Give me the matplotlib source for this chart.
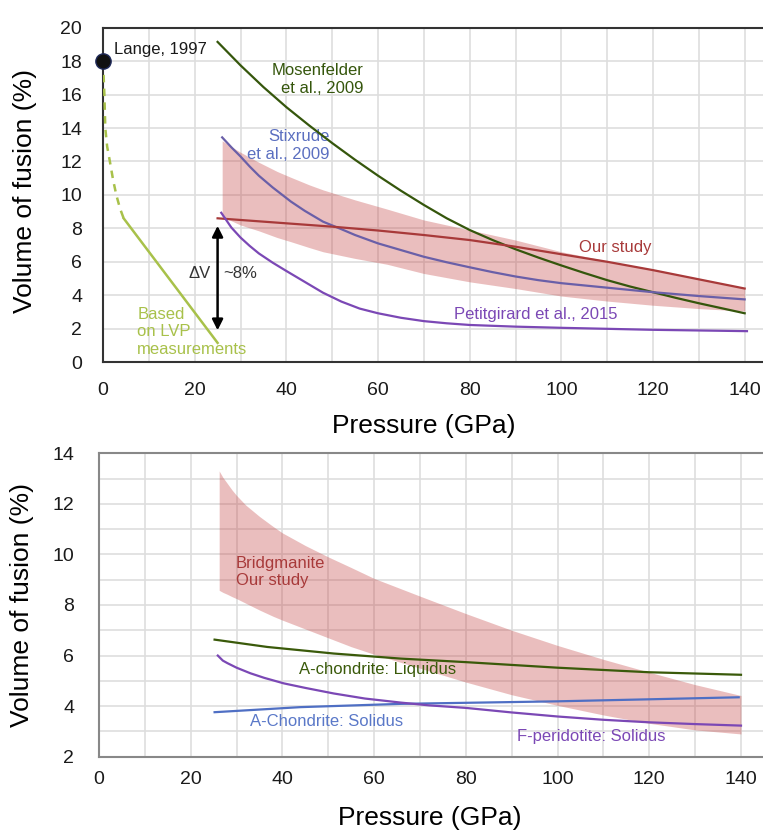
import matplotlib
matplotlib.use("Agg")
import matplotlib.pyplot as plt
from matplotlib.ticker import MultipleLocator

plt.rcParams['font.family'] = ['Liberation Sans', 'DejaVu Sans']

# ---- top panel data (pressure GPa, volume of fusion %) ----
lange_p = [0]
lange_v = [18]

lvp_dash_p = [0, 0.15, 0.3, 0.5, 0.9, 1.5, 2.2, 2.9, 3.7, 4.5]
lvp_dash_v = [18, 17.0, 16.0, 14.0, 12.9, 12.0, 10.9, 10.0, 9.2, 8.6]
lvp_p = [4.5, 25]
lvp_v = [8.6, 1.15]

mosen_p = [25, 30, 35, 40, 45, 50, 55, 60, 65, 70, 75, 80, 85, 90, 95, 100,
           105, 110, 115, 120, 125, 130, 135, 140]
mosen_v = [19.15, 17.75, 16.45, 15.25, 14.15, 13.1, 12.1, 11.15, 10.25, 9.4, 8.6, 7.9,
           7.3, 6.75, 6.25, 5.78, 5.33, 4.9, 4.52, 4.18, 3.84, 3.52, 3.22, 2.92]

stix_p = [26, 28, 30, 32, 34, 37, 41, 44, 48, 52, 55, 60, 65, 70, 75, 80, 85, 90,
          95, 100, 110, 120, 130, 140]
stix_v = [13.44, 12.85, 12.3, 11.7, 11.15, 10.45, 9.6, 9.05, 8.4, 7.95, 7.6, 7.1, 6.7,
          6.3, 5.97, 5.67, 5.38, 5.12, 4.9, 4.72, 4.45, 4.18, 3.95, 3.75]

ours_p = [25, 40, 50, 60, 70, 80, 90, 100, 110, 120, 130, 140]
ours_v = [8.6, 8.3, 8.1, 7.87, 7.6, 7.3, 6.9, 6.45, 6.0, 5.5, 4.95, 4.4]

band_p = [26, 28, 30, 34, 38, 41, 45, 48, 55, 62, 70, 80, 90, 100, 110, 120, 130, 140]
band_hi = [13.24, 12.88, 12.55, 11.95, 11.4, 11.05, 10.6, 10.3, 9.7, 9.15, 8.5, 7.9,
           7.3, 6.6, 6.05, 5.55, 5.0, 4.45]
band_lo = [8.7, 8.45, 8.2, 7.85, 7.45, 7.2, 6.85, 6.6, 6.2, 5.85, 5.3, 4.8,
           4.4, 3.95, 3.65, 3.4, 3.2, 3.05]

petit_p = [25.8, 27, 28, 30, 32, 34, 37, 40, 44, 48, 52, 56, 60, 65, 70, 75, 80,
           90, 100, 120, 140.5]
petit_v = [8.93, 8.45, 8.05, 7.45, 6.95, 6.5, 5.95, 5.45, 4.8, 4.15, 3.62, 3.2, 2.92,
           2.65, 2.45, 2.32, 2.22, 2.12, 2.05, 1.93, 1.85]

# ---- bottom panel data ----
bridg_p = [26.2, 27, 28, 29, 30, 32, 35, 38, 40, 45, 50, 55, 60, 70, 80, 90, 100,
           110, 120, 130, 140]
bridg_hi = [13.3, 13.05, 12.8, 12.55, 12.33, 11.95, 11.5, 11.1, 10.85, 10.35, 9.9,
            9.48, 9.05, 8.35, 7.66, 7.0, 6.4, 5.85, 5.34, 4.85, 4.42]
bridg_lo = [8.58, 8.5, 8.42, 8.33, 8.25, 8.07, 7.8, 7.55, 7.4, 7.05, 6.7, 6.35, 6.05,
            5.5, 4.95, 4.45, 4.03, 3.65, 3.32, 3.06, 2.9]

liq_p = [25.2, 36.7, 51.2, 65.8, 80, 100, 120, 140]
liq_v = [6.63, 6.34, 6.08, 5.88, 5.74, 5.52, 5.34, 5.24]

sol_p = [25.2, 43.9, 65.8, 100, 120, 139.5]
sol_v = [3.76, 3.96, 4.09, 4.19, 4.27, 4.35]

fper_p = [25.9, 27, 28, 30, 33, 36, 40.3, 45, 51.2, 58, 65.8, 72, 80, 90, 100, 110,
          120, 130, 140]
fper_v = [6.0, 5.8, 5.7, 5.52, 5.3, 5.12, 4.9, 4.72, 4.5, 4.3, 4.14, 4.03, 3.93, 3.75,
          3.59, 3.46, 3.36, 3.29, 3.23]

# colours
c_lvp = '#a8c14a'
c_mos = '#35560c'
c_stix_line = '#6a5fa8'
c_stix_txt = '#5b6fc0'
c_red = '#a83a3a'
c_pet = '#7b48b5'
c_band = '#c23b3b'
c_liq = '#3a5a0a'
c_sol = '#4f6fc4'

fig = plt.figure(figsize=(7.63, 8.32), dpi=100)
ax1 = fig.add_axes([0.135, 0.5648, 0.865, 0.4019])
ax2 = fig.add_axes([0.1298, 0.0905, 0.8702, 0.3647])


def style(ax, spine_col):
    ax.xaxis.set_major_locator(MultipleLocator(20))
    ax.xaxis.set_minor_locator(MultipleLocator(10))
    ax.grid(True, which='both', color='#dedede', lw=1.2, zorder=0)
    ax.set_axisbelow(True)
    ax.tick_params(which='both', length=0, labelsize=14, colors='#1a1a1a')
    ax.spines['right'].set_visible(False)
    for s in ['left', 'top', 'bottom']:
        ax.spines[s].set_color(spine_col)
        ax.spines[s].set_linewidth(1.5)


# top panel
ax1.set_xlim(0, 144)
ax1.set_ylim(0, 20)
ax1.yaxis.set_major_locator(MultipleLocator(2))
style(ax1, '#333333')
ax1.tick_params(axis='x', pad=14)
ax1.tick_params(axis='y', pad=15)

ax1.fill_between(band_p, band_lo, band_hi, color=c_band, alpha=0.33, lw=0, zorder=2)
ax1.plot(lvp_dash_p, lvp_dash_v, color=c_lvp, lw=1.8, ls=(0, (3, 2.5)), zorder=3)
ax1.plot(lvp_p, lvp_v, color=c_lvp, lw=1.8, zorder=3)
ax1.plot(mosen_p, mosen_v, color=c_mos, lw=1.6, zorder=4)
ax1.plot(stix_p, stix_v, color=c_stix_line, lw=1.6, zorder=4)
ax1.plot(ours_p, ours_v, color=c_red, lw=1.6, zorder=4)
ax1.plot(petit_p, petit_v, color=c_pet, lw=1.6, zorder=4)
ax1.plot(lange_p, lange_v, 'o', color='#111111', mec='#1f2a5a', ms=11, clip_on=False, zorder=6)

ax1.annotate('', xy=(25, 8.15), xytext=(25, 1.9),
             arrowprops=dict(arrowstyle='<|-|>', color='black', lw=1.8,
                             mutation_scale=16, shrinkA=0, shrinkB=0), zorder=5)

ax1.text(2.5, 18.7, 'Lange, 1997', fontsize=12, color='#1a1a1a', va='center')
ax1.text(56.8, 16.9, 'Mosenfelder\net al., 2009', fontsize=12, color=c_mos,
         ha='right', va='center', linespacing=1.2)
ax1.text(49.4, 12.95, 'Stixrude\net al., 2009', fontsize=12, color=c_stix_txt,
         ha='right', va='center', linespacing=1.2)
ax1.text(111.8, 6.85, 'Our study', fontsize=12, color=c_red, ha='center', va='center')
ax1.text(76.5, 2.87, 'Petitgirard et al., 2015', fontsize=12, color=c_pet, va='center')
ax1.text(7.5, 1.8, 'Based\non LVP\nmeasurements', fontsize=12, color=c_lvp,
         va='center', linespacing=1.2)
ax1.text(23.4, 5.27, 'ΔV', fontsize=12, color='#333333', ha='right', va='center')
ax1.text(26.3, 5.27, '~8%', fontsize=12, color='#333333', ha='left', va='center')

# bottom panel
ax2.set_xlim(0, 144.8)
ax2.set_ylim(2, 14)
ax2.yaxis.set_major_locator(MultipleLocator(2))
ax2.yaxis.set_minor_locator(MultipleLocator(1))
style(ax2, '#888888')
ax2.tick_params(axis='x', pad=10)
ax2.tick_params(axis='y', pad=18)

ax2.fill_between(bridg_p, bridg_lo, bridg_hi, color=c_band, alpha=0.33, lw=0, zorder=2)
ax2.plot(liq_p, liq_v, color=c_liq, lw=1.6, zorder=4)
ax2.plot(sol_p, sol_v, color=c_sol, lw=1.6, zorder=4)
ax2.plot(fper_p, fper_v, color=c_pet, lw=1.6, zorder=4)

ax2.text(29.8, 9.3, 'Bridgmanite\nOur study', fontsize=12, color=c_red,
         va='center', linespacing=1.2)
ax2.text(43.5, 5.44, 'A-chondrite: Liquidus', fontsize=12, color=c_liq, va='center')
ax2.text(32.9, 3.40, 'A-Chondrite: Solidus', fontsize=12, color='#5a78c8', va='center')
ax2.text(91.1, 2.8, 'F-peridotite: Solidus', fontsize=12, color=c_pet, va='center')

# axis labels
fig.text(424 / 763, 1 - 426 / 832, 'Pressure (GPa)', fontsize=19, ha='center', va='center')
fig.text(430 / 763, 1 - 818 / 832, 'Pressure (GPa)', fontsize=19, ha='center', va='center')
fig.text(25 / 763, 1 - 191 / 832, 'Volume of fusion (%)', fontsize=19, rotation=90,
         ha='center', va='center')
fig.text(22 / 763, 1 - 605 / 832, 'Volume of fusion (%)', fontsize=19, rotation=90,
         ha='center', va='center')

fig.savefig('out.png', dpi=100)
